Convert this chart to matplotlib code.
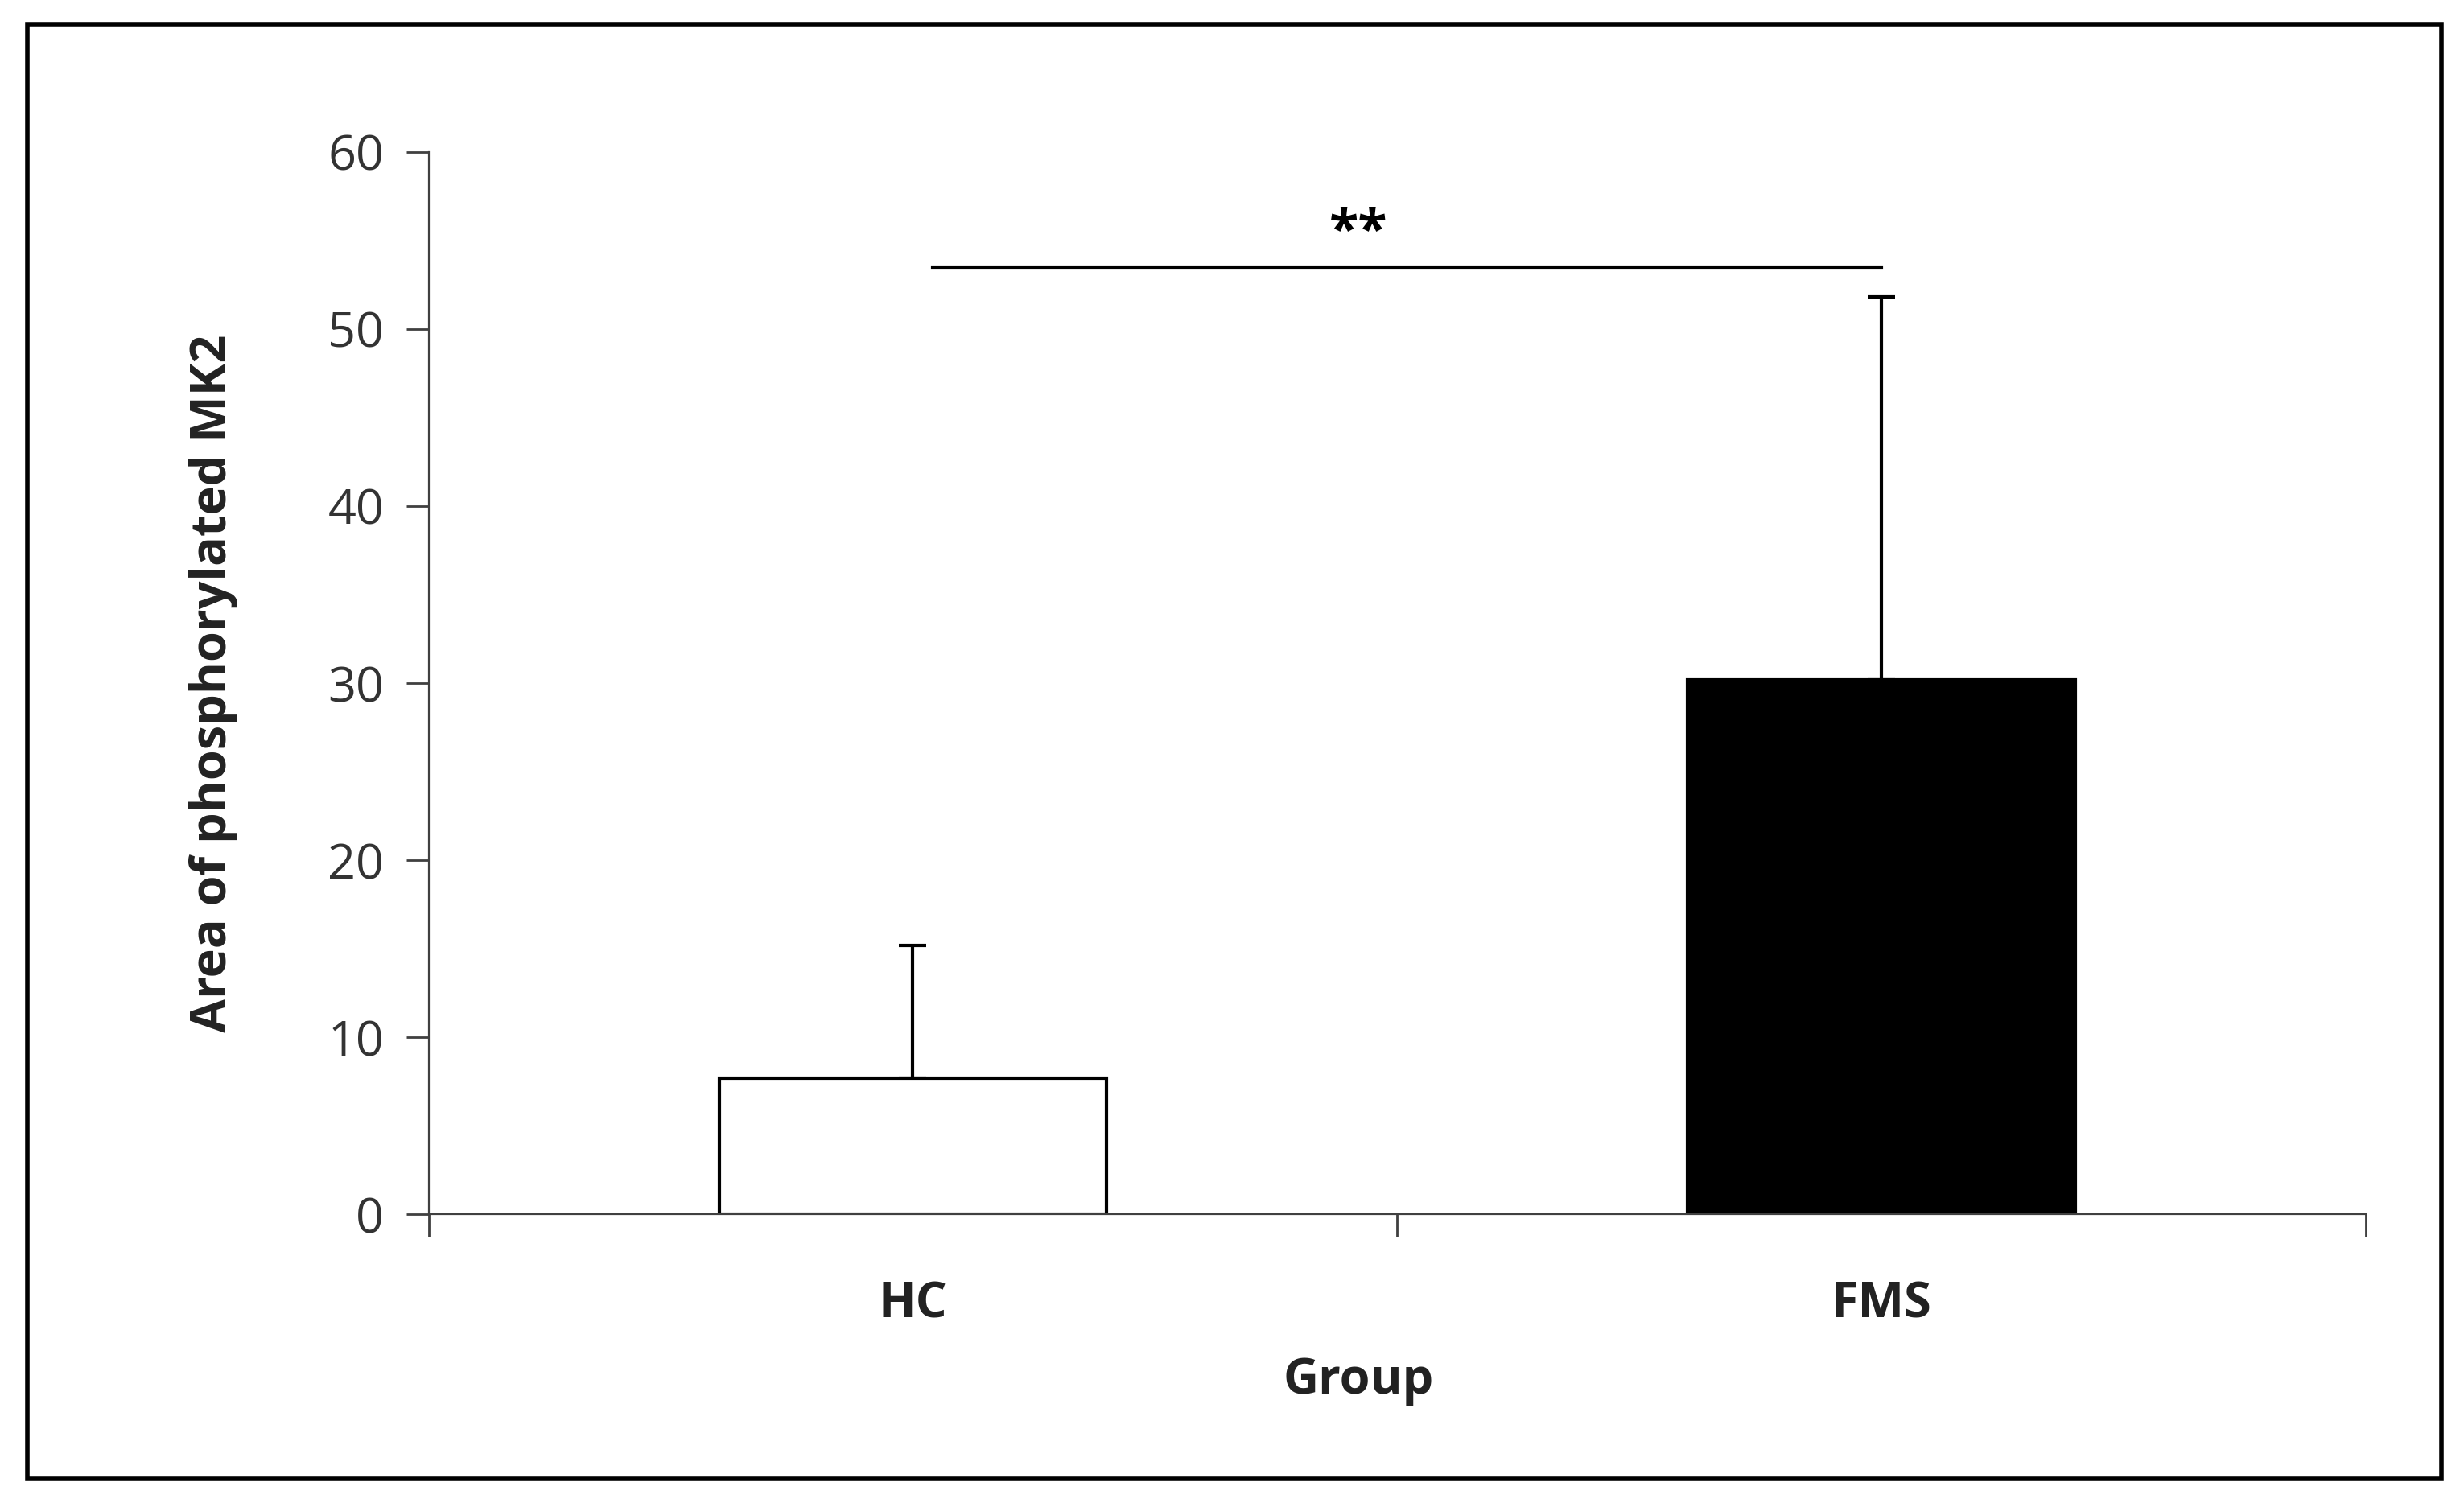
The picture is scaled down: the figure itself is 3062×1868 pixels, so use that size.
import matplotlib
matplotlib.use("Agg")
import matplotlib.pyplot as plt
from matplotlib.patches import Rectangle

groups = ["HC", "FMS"]
means = [7.7, 30.2]
errors = [7.5, 21.6]
colors = ["white", "black"]

plt.rcParams["font.family"] = ["Open Sans", "DejaVu Sans"]

fig = plt.figure(figsize=(15.31, 9.34), dpi=200)
ax = fig.add_axes([0.174, 0.192, 0.786, 0.707])

x = range(len(groups))
ax.bar(x, means, width=0.4, color=colors, edgecolor="black", linewidth=1.5, zorder=2)
ax.errorbar(x, means, yerr=[[0, 0], errors], fmt="none", ecolor="black",
            elinewidth=1.5, capsize=6, capthick=1.5, zorder=1)

# significance bar
ax.plot([0.02, 1.0], [53.5, 53.5], color="black", lw=1.5)
ax.text(0.46, 53.9, "**", ha="center", va="bottom", fontsize=24, fontweight="bold")

ax.set_xlim(-0.5, 1.5)
ax.set_ylim(0, 60)
ax.set_yticks(range(0, 61, 10))
ax.set_xticks([-0.5, 0.5, 1.5])
ax.set_xticklabels([])
ax.tick_params(axis="y", direction="out", length=10, width=1, labelsize=22, colors="#404040",
               labelcolor="#333333", pad=10)
ax.tick_params(axis="x", direction="out", length=10, width=1, colors="#404040")
for i, g in enumerate(groups):
    ax.text(i, -5.1, g, ha="center", va="center", fontsize=22, fontweight="bold", color="#222222")
ax.text(0.46, -9.4, "Group", ha="center", va="center", fontsize=22, fontweight="bold", color="#222222")
ax.set_ylabel("Area of phosphorylated MK2", fontsize=22, fontweight="bold", labelpad=40,
              color="#222222")

for s in ["top", "right"]:
    ax.spines[s].set_visible(False)
for s in ["left", "bottom"]:
    ax.spines[s].set_color("#404040")

fig.patches.append(Rectangle((0.011, 0.016), 0.98, 0.968, transform=fig.transFigure,
                             fill=False, edgecolor="black", lw=2))

fig.savefig("out.png", dpi=200)
